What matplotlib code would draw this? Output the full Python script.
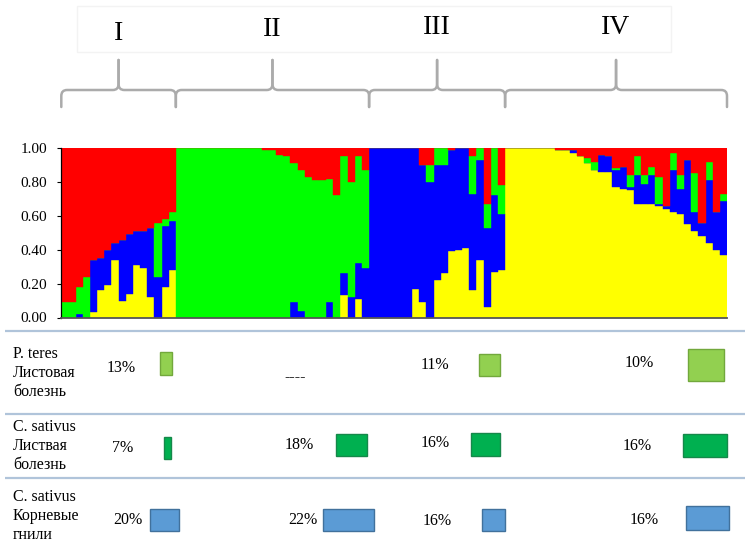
import numpy as np
import matplotlib.pyplot as plt
from matplotlib.patches import Rectangle, PathPatch
from matplotlib.path import Path
from matplotlib.transforms import blended_transform_factory

plt.rcParams['font.family'] = ['Liberation Serif', 'DejaVu Serif']

# membership coefficients (K = 4) for every accession, grouped by cluster
groups = ['I', 'II', 'III', 'IV']

yellow_I = [0, 0, 0, 0, 0.03, 0.16, 0.19, 0.34, 0.10, 0.14, 0.31, 0.29, 0.12, 0, 0.18, 0.28]
blue_I = [0, 0, 0.02, 0, 0.31, 0.19, 0.21, 0.10, 0.36, 0.35, 0.20, 0.22, 0.41, 0.24, 0.36, 0.29]
green_I = [0.09, 0.09, 0.16, 0.24, 0, 0, 0, 0, 0, 0, 0, 0, 0, 0.32, 0.04, 0.05]
red_I = [0.91, 0.91, 0.82, 0.76, 0.66, 0.65, 0.60, 0.56, 0.54, 0.51, 0.49, 0.49, 0.47, 0.44, 0.42, 0.38]

yellow_II = [0] * 23 + [0.13, 0, 0.11, 0]
blue_II = [0] * 16 + [0.09, 0.04, 0, 0, 0, 0.09, 0, 0.13, 0.12, 0.21, 0.29]
green_II = [1] * 12 + [0.99, 0.99, 0.96, 0.95, 0.82, 0.83, 0.83, 0.81, 0.81, 0.73, 0.72,
                       0.69, 0.68, 0.63, 0.58]
red_II = [0] * 12 + [0.01, 0.01, 0.04, 0.05, 0.09, 0.13, 0.17, 0.19, 0.19, 0.18, 0.28,
                     0.05, 0.20, 0.05, 0.13]

yellow_III = [0, 0, 0, 0, 0, 0, 0.17, 0.09, 0, 0.22, 0.26, 0.39, 0.40, 0.41, 0.16, 0.34, 0.06, 0.27, 0.28]
blue_III = [1, 1, 1, 1, 1, 1, 0.83, 0.81, 0.80, 0.68, 0.64, 0.60, 0.60, 0.59, 0.57, 0.59, 0.47, 0.45, 0.33]
green_III = [0, 0, 0, 0, 0, 0, 0, 0, 0.10, 0.10, 0.10, 0, 0, 0, 0.22, 0.07, 0.14, 0.28, 0.17]
red_III = [0, 0, 0, 0, 0, 0, 0, 0.10, 0.10, 0, 0, 0.01, 0, 0, 0.05, 0, 0.33, 0, 0.22]

yellow_IV = [1, 1, 1, 1, 1, 1, 1, 0.99, 0.99, 0.97, 0.95, 0.91, 0.87, 0.86, 0.86, 0.77,
             0.76, 0.75, 0.67, 0.67, 0.67, 0.66, 0.64, 0.62, 0.61, 0.55, 0.51, 0.48, 0.44, 0.40, 0.37]
blue_IV = [0, 0, 0, 0, 0, 0, 0, 0, 0, 0.02, 0, 0, 0, 0.10, 0.09, 0.10,
           0.13, 0.02, 0.17, 0.12, 0.17, 0.01, 0.02, 0.25, 0.15, 0.38, 0.11, 0.08, 0.37, 0.22, 0.32]
green_IV = [0, 0, 0, 0, 0, 0, 0, 0, 0, 0, 0, 0.03, 0.05, 0, 0, 0.01,
            0, 0.07, 0.11, 0.05, 0.05, 0.16, 0, 0.10, 0.08, 0, 0.23, 0, 0.11, 0, 0.04]
red_IV = [0, 0, 0, 0, 0, 0, 0, 0.01, 0.01, 0.01, 0.05, 0.06, 0.08, 0.04, 0.05, 0.12,
          0.11, 0.16, 0.05, 0.16, 0.11, 0.17, 0.34, 0.03, 0.16, 0.07, 0.15, 0.44, 0.08, 0.38, 0.27]

# share of resistant accessions per cluster (None = no data)
trait_labels = ['P. teres\nЛистовая\nболезнь',
                'C. sativus\nЛиствая\nболезнь',
                'C. sativus\nКорневые\nгнили']
pteres_leaf = [13, None, 11, 10]
sativus_leaf = [7, 18, 16, 16]
sativus_root = [20, 22, 16, 16]

yellow = np.array(yellow_I + yellow_II + yellow_III + yellow_IV)
blue = np.array(blue_I + blue_II + blue_III + blue_IV)
green = np.array(green_I + green_II + green_III + green_IV)
red = np.array(red_I + red_II + red_III + red_IV)
sizes = [len(yellow_I), len(yellow_II), len(yellow_III), len(yellow_IV)]
n = len(yellow)

W, H = 747, 545
fig = plt.figure(figsize=(W / 100, H / 100), dpi=100)
ax = fig.add_axes([61.3 / W, 1 - 317.5 / H, 665.7 / W, 169.5 / H])

x = np.arange(n)
bottom = np.zeros(n)
for vals, col in ((yellow, '#ffff00'), (blue, '#0000ff'), (green, '#00ff00'), (red, '#ff0000')):
    ax.bar(x, vals, width=1.0, bottom=bottom, align='edge', color=col,
           edgecolor=col, linewidth=0.3)
    bottom += vals

ax.set_xlim(0, n)
ax.set_ylim(0, 1)
ax.set_xticks([])
ax.set_yticks(np.arange(0, 1.01, 0.2))
ax.set_yticklabels([f'{v:.2f}' for v in np.arange(0, 1.01, 0.2)], fontsize=11)
ax.tick_params(axis='y', length=3, width=0.8, pad=7)
ax.spines['top'].set_visible(False)
ax.spines['right'].set_visible(False)
ax.spines['left'].set_linewidth(0.9)
ax.spines['bottom'].set_color('#555555')
ax.spines['bottom'].set_linewidth(1.3)

# pixel-space overlay for brackets and the trait table
over = fig.add_axes([0, 0, 1, 1], facecolor='none')
over.set_xlim(0, W)
over.set_ylim(H, 0)
over.axis('off')

# faint frame around the cluster numerals
over.add_patch(Rectangle((77, 6), 594, 46, fill=False, edgecolor='#f3f3f3', linewidth=1))

brace_tr = blended_transform_factory(ax.transData, over.transData)
bracket_gray = '#ababab'
label_y = [33, 29, 28, 28]


def draw_brace(x0, x1, y_line=90, y_end=107, y_tip=60, rx=0.8, ry=6):
    xc = (x0 + x1) / 2
    for xa, s in ((x0, 1), (x1, -1)):
        verts = [(xa, y_end), (xa, y_line + ry), (xa, y_line), (xa + s * rx, y_line),
                 (xc - s * rx, y_line), (xc, y_line), (xc, y_line - ry), (xc, y_tip)]
        codes = [Path.MOVETO, Path.LINETO, Path.CURVE3, Path.CURVE3,
                 Path.LINETO, Path.CURVE3, Path.CURVE3, Path.LINETO]
        over.add_patch(PathPatch(Path(verts, codes), fill=False, edgecolor=bracket_gray,
                                 linewidth=1.8, transform=brace_tr, capstyle='round'))
    return xc


start = 0
for g, size, ly in zip(groups, sizes, label_y):
    xc = draw_brace(start, start + size)
    over.text(xc, ly, g, transform=brace_tr, ha='center', va='center', fontsize=20)
    start += size

# trait table below the plot
rule_color = '#b0c4da'
for yy in (331, 414, 478):
    over.plot([5, 745], [yy, yy], color=rule_color, linewidth=1.6, solid_capstyle='butt')

row_y = [373, 446, 516]
for lab, yy in zip(trait_labels, row_y):
    over.text(13, yy, lab, ha='left', va='center', fontsize=11.5, linespacing=1.28)

rows = [pteres_leaf, sativus_leaf, sativus_root]
text_pos = [[(121, 368), (295, 377), (435, 365), (639, 363)],
            [(123, 448), (299, 445), (435, 443), (637, 446)],
            [(128, 520), (303, 520), (437, 521), (644, 520)]]
boxes = [[(160, 352, 12, 23), None, (479, 354, 21, 22), (688, 349, 36, 32)],
         [(164, 437, 7, 22), (336, 434, 31, 22), (471, 433, 29, 23), (683, 434, 44, 23)],
         [(150, 509, 29, 22), (323, 509, 51, 22), (482, 509, 23, 22), (686, 506, 43, 24)]]
fills = ['#92d050', '#00b050', '#5b9bd5']
edges = ['#72a83c', '#15884a', '#41719c']

for vals, tpos, bxs, fc, ec in zip(rows, text_pos, boxes, fills, edges):
    for v, (tx, ty), b in zip(vals, tpos, bxs):
        over.text(tx, ty, '----' if v is None else f'{v}%', ha='center', va='center', fontsize=11.5)
        if b is not None:
            over.add_patch(Rectangle((b[0], b[1]), b[2], b[3], facecolor=fc,
                                     edgecolor=ec, linewidth=1))

fig.savefig('out.png', dpi=100)
